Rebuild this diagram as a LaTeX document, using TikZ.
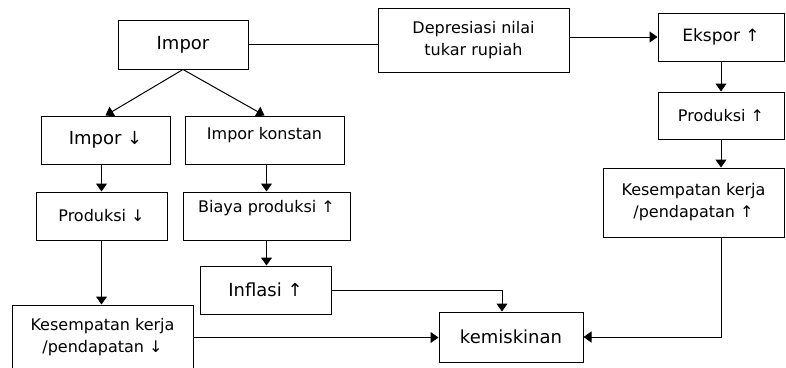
\documentclass[tikz,border=0pt]{standalone}
\usepackage{fontspec}
\setmainfont{DejaVu Sans}
\usetikzlibrary{arrows.meta}
\tikzset{
	kotak/.style={draw,line width=1pt,inner sep=2pt,align=center,font=\fontsize{16}{22}\selectfont},
	besar/.style={font=\fontsize{18}{22}\selectfont},
}
\begin{document}
\begin{tikzpicture}[>={Triangle[length=8pt,width=11pt]},x=1pt,y=-1pt,line width=1pt]
		\useasboundingbox (0,0) rectangle (786,367);
		\node[kotak,besar,minimum width=130pt,minimum height=49pt] (imp) at (183,44.5) {Impor};
		\node[kotak,minimum width=191pt,minimum height=64pt] (dep) at (473.5,40) {Depresiasi nilai\\tukar rupiah};
		\node[kotak,besar,font=\fontsize{17}{22}\selectfont,minimum width=126pt,minimum height=48pt] (eks) at (721,37) {Ekspor ↑};
		\node[kotak,minimum width=126pt,minimum height=47pt] (prodn) at (721,115.5) {Produksi ↑};
		\node[kotak,minimum width=181pt,minimum height=69pt] (kesn) at (693.5,202.5) {Kesempatan kerja\\/pendapatan ↑};
		\node[kotak,besar,minimum width=129pt,minimum height=48pt] (impt) at (105.5,140) {Impor ↓};
		\node[kotak,text depth=13pt,minimum width=159pt,minimum height=48pt] (impk) at (264.5,140) {Impor konstan};
		\node[kotak,minimum width=131pt,minimum height=48pt] (prodt) at (101.5,216) {Produksi ↓};
		\node[kotak,text depth=19pt,minimum width=167pt,minimum height=48pt] (biaya) at (266.5,216) {Biaya produksi ↑};
		\node[kotak,besar,minimum width=131pt,minimum height=48pt] (infl) at (265.5,290) {Inflasi ↑};
		\node[kotak,minimum width=181pt,minimum height=65pt] (kest) at (102.5,337.5) {Kesempatan kerja\\/pendapatan ↓};
		\node[kotak,besar,minimum width=144pt,minimum height=50pt] (kem) at (511,337) {kemiskinan};
		% jalur impor
		\draw (imp.east) -- (imp.east -| dep.west);
		\draw[->] (imp.south) -- (impt.north);
		\draw[->] (imp.south) -- (impk.north);
		\draw[->] (prodt.north |- impt.south) -- (prodt.north);
		\draw[->] (biaya.north |- impk.south) -- (biaya.north);
		\draw[->] (biaya.south) -- (biaya.south |- infl.north);
		\draw[->] (prodt.south) -- (prodt.south |- kest.north);
		% jalur ekspor
		\draw[->] (eks.west -| dep.east) -- (eks.west);
		\draw[->] (eks.south) -- (prodn.north);
		\draw[->] (prodn.south) -- (prodn.south |- kesn.north);
		% ke kemiskinan
		\draw[->] (infl.east) -| ([xshift=-9pt]kem.north);
		\draw[->] (kest.east) -- (kest.east -| kem.west);
		\draw[->] (prodn.south |- kesn.south) |- (kem.east);
\end{tikzpicture}
\end{document}
